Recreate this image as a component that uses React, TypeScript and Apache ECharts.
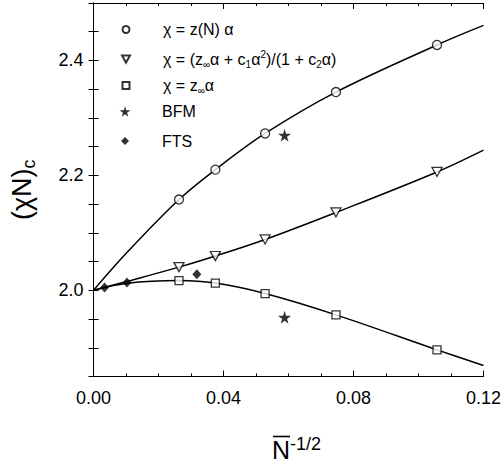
import React, { useEffect, useRef } from "react";
import * as echarts from "echarts";

// ---- data ----
const curveX = [0, 0.01, 0.0263, 0.0375, 0.0528, 0.0746, 0.1057, 0.12];
const curveZN = [2.0, 2.064, 2.158, 2.21, 2.273, 2.345, 2.427, 2.461];
const curvePade = [2.0, 2.015, 2.0403, 2.0597, 2.0885, 2.1355, 2.206, 2.244];
const curveZInf = [2.0, 2.012, 2.017, 2.0126, 1.9944, 1.9573, 1.8964, 1.869];

const pointX = [0.0263, 0.0375, 0.0528, 0.0746, 0.1057];
const circleY = [2.158, 2.21, 2.273, 2.345, 2.427];
const triangleY = [2.0403, 2.0597, 2.0885, 2.1355, 2.206];
const squareY = [2.017, 2.0126, 1.9944, 1.9573, 1.8964];

const bfmX = [0.0588, 0.0588];
const bfmY = [2.27, 1.953];
const ftsX = [0.0034, 0.0103, 0.0318];
const ftsY = [2.005, 2.0138, 2.028];

const xTickLabels = ["0.00", "0.04", "0.08", "0.12"];
const yTickLabels = ["2.0", "2.2", "2.4"];

const seriesNames = ["zN", "pade", "zinf", "BFM", "FTS"];

const FONT = "Liberation Sans, Arial, Helvetica, sans-serif";
const STAR = "path://M50,0 L61,35 L98,35 L68,57 L79,91 L50,70 L21,91 L32,57 L2,35 L39,35 Z";
const TRI_DOWN = "path://M0,0 L10,0 L5,9 Z";

const zip = (xs: number[], ys: number[]) => xs.map((x, i) => [x, ys[i]]);

const legendText: Record<string, string> = {
  zN: "{p| }{t|χ = z(N) α}",
  pade: "{p| }{t|χ = (z}{sb|∞}{t|α + c}{sb|1}{t|α}{sp|2}{t|)/(1 + c}{sb|2}{t|α)}",
  zinf: "{p| }{t|χ = z}{sb|∞}{t|α}",
  BFM: "{p| }{t|BFM}",
  FTS: "{p| }{t|FTS}",
};

// legend layout (style only)
const legendIconSize = [7, 8, 7, 11, 8];
const legendRowCenter = [25, 53, 81, 109, 137];
const ICON_CX = 125;
const TEXT_X = 162;

export default function App() {
  const ref = useRef<HTMLDivElement>(null);
  useEffect(() => {
    if (!ref.current) return;
    const chart = echarts.init(ref.current, undefined, { renderer: "svg" });
    const axisCommon = {
      axisLine: { show: true, lineStyle: { color: "#000", width: 1 } },
      splitLine: { show: false },
      minorSplitLine: { show: false },
    };
    const lineSeries = (name: string, ys: number[]) => ({
      name,
      type: "line",
      data: zip(curveX, ys),
      showSymbol: false,
      symbol: "none",
      smooth: 0.35,
      lineStyle: { color: "#000", width: 1.5 },
      z: 2,
    });
    const markerStyle = { color: "#fff", borderColor: "#000", borderWidth: 1.3 };
    const legends = seriesNames.map((n, i) => {
      const s = legendIconSize[i];
      const left = ICON_CX - s / 2;
      return {
        orient: "vertical",
        left,
        top: legendRowCenter[i] - s / 2,
        padding: 0,
        itemWidth: s,
        itemHeight: s,
        selectedMode: false,
        data: [n],
        formatter: (name: string) => legendText[name],
        textStyle: {
          color: "#000",
          fontFamily: FONT,
          fontSize: 16,
          rich: {
            p: { width: TEXT_X - (left + s + 5), fontSize: 16, lineHeight: 20 },
            t: { fontSize: 16, lineHeight: 20, color: "#000", fontFamily: FONT },
            sb: { fontSize: 10, lineHeight: 10, verticalAlign: "bottom", color: "#000", fontFamily: FONT },
            sp: { fontSize: 10, lineHeight: 10, verticalAlign: "top", color: "#000", fontFamily: FONT },
          },
        },
      };
    });
    chart.setOption({
      animation: false,
      backgroundColor: "#fff",
      textStyle: { fontFamily: FONT },
      grid: { left: 93, right: 18, top: 3, bottom: 72 },
      legend: legends,
      xAxis: [
        {
          type: "value",
          position: "bottom",
          min: 0,
          max: 0.12,
          interval: 0.04,
          ...axisCommon,
          axisTick: { show: true, inside: true, length: 6, lineStyle: { color: "#000" } },
          minorTick: { show: true, splitNumber: 4, length: 3, lineStyle: { color: "#000" } },
          axisLabel: {
            color: "#000",
            fontSize: 18,
            fontFamily: FONT,
            margin: 12,
            formatter: (v: number) => xTickLabels[Math.round(v / 0.04)] ?? "",
          },
          name: "{n|N}{s|-1/2}",
          nameLocation: "middle",
          nameGap: 58,
          nameTextStyle: {
            rich: {
              n: { fontSize: 25, lineHeight: 30, color: "#000", fontFamily: FONT, padding: [0, 0, 0, 16] },
              s: { fontSize: 18, lineHeight: 18, verticalAlign: "top", color: "#000", fontFamily: FONT },
            },
          },
        },
        {
          type: "value",
          position: "top",
          min: 0,
          max: 0.12,
          interval: 0.04,
          ...axisCommon,
          axisTick: { show: true, inside: true, length: 6, lineStyle: { color: "#000" } },
          minorTick: { show: true, splitNumber: 4, length: 3, lineStyle: { color: "#000" } },
          axisLabel: { show: false },
        },
      ],
      yAxis: [
        {
          type: "value",
          position: "left",
          min: 1.85,
          max: 2.5,
          interval: 0.05,
          ...axisCommon,
          axisTick: { show: true, inside: true, length: 5, lineStyle: { color: "#000" } },
          axisLabel: {
            color: "#000",
            fontSize: 18,
            fontFamily: FONT,
            margin: 10,
            formatter: (v: number) => {
              const k = Math.round(v * 10);
              if (Math.abs(v * 10 - k) > 1e-6) return "";
              const s = (k / 10).toFixed(1);
              return yTickLabels.includes(s) ? s : "";
            },
          },
          name: "{a|(χN)}{s|c}",
          nameLocation: "middle",
          nameGap: 56,
          nameRotate: 90,
          nameTextStyle: {
            rich: {
              a: { fontSize: 27, lineHeight: 32, color: "#000", fontFamily: FONT },
              s: { fontSize: 18, lineHeight: 16, verticalAlign: "bottom", color: "#000", fontFamily: FONT },
            },
          },
        },
        {
          type: "value",
          position: "right",
          min: 1.85,
          max: 2.5,
          interval: 0.05,
          ...axisCommon,
          axisTick: { show: true, inside: true, length: 5, lineStyle: { color: "#000" } },
          axisLabel: { show: false },
        },
      ],
      graphic: [
        {
          type: "line",
          shape: { x1: 273, y1: 436.5, x2: 290, y2: 436.5 },
          style: { stroke: "#000", lineWidth: 1.6 },
          silent: true,
        },
      ],
      series: [
        lineSeries("fit zN", curveZN),
        lineSeries("fit pade", curvePade),
        lineSeries("fit zinf", curveZInf),
        {
          name: "zN",
          type: "scatter",
          data: zip(pointX, circleY),
          symbol: "circle",
          symbolSize: 9,
          itemStyle: markerStyle,
          z: 5,
        },
        {
          name: "pade",
          type: "scatter",
          data: zip(pointX, triangleY),
          symbol: TRI_DOWN,
          symbolSize: [10, 9],
          itemStyle: markerStyle,
          z: 5,
        },
        {
          name: "zinf",
          type: "scatter",
          data: zip(pointX, squareY),
          symbol: "rect",
          symbolSize: 8,
          itemStyle: markerStyle,
          z: 5,
        },
        {
          name: "BFM",
          type: "scatter",
          data: zip(bfmX, bfmY),
          symbol: STAR,
          symbolSize: 13,
          itemStyle: { color: "#000" },
          z: 5,
        },
        {
          name: "FTS",
          type: "scatter",
          data: zip(ftsX, ftsY),
          symbol: "diamond",
          symbolSize: [9, 10],
          itemStyle: { color: "#000" },
          z: 5,
        },
      ],
    });
    return () => chart.dispose();
  }, []);
  return (
    <div
      ref={ref}
      style={{ position: "fixed", left: 0, top: 0, width: 504, height: 467 }}
    />
  );
}
